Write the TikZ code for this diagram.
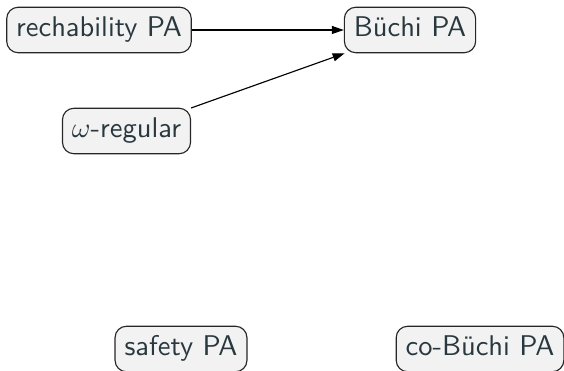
\documentclass[tikz,border=0pt]{standalone}
\usetikzlibrary{arrows.meta}
\definecolor{txtc}{RGB}{40,56,62}
\definecolor{boxfill}{RGB}{242,242,242}
\begin{document}
\begin{tikzpicture}[x=0.351pt,y=-0.351pt,
  pa/.style={draw=black!85, fill=boxfill, rounded corners=4pt, line width=0.4pt,
    text=txtc, font=\sffamily, inner sep=3.33pt, text height=6.9pt, text depth=2.4pt},
  arr/.style={-{Triangle[length=4.2pt,width=2.8pt]}, line width=0.4pt}]
\useasboundingbox (0,0) rectangle (564,371);
\node[pa] (rech) at (99,30) {rechability PA};
\node[pa] (buchi) at (410,30) {Büchi PA};
\node[pa] (omega) at (126.5,131) {$\omega$-regular};
\node[pa] (safety) at (181,349) {safety PA};
\node[pa] (cobuchi) at (480,349) {co-Büchi PA};
\draw[arr] (rech) -- (buchi);
\draw[arr] (omega) -- (buchi);
\end{tikzpicture}
\end{document}
